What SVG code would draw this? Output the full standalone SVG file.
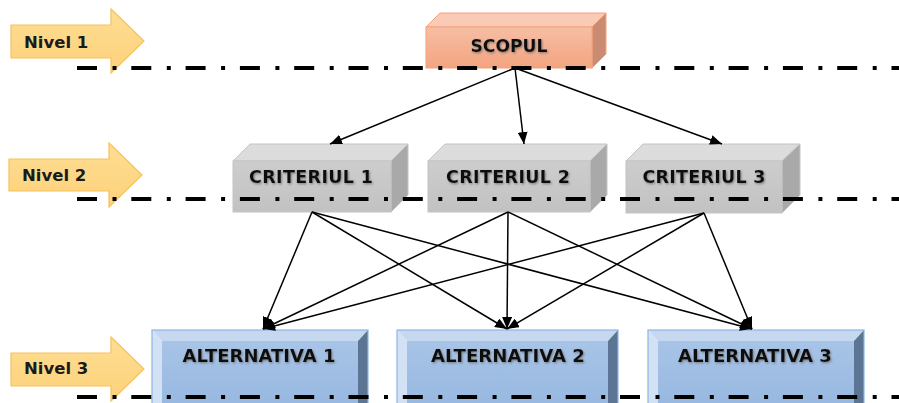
<svg xmlns="http://www.w3.org/2000/svg" width="899" height="403" viewBox="0 0 899 403">
<defs>
  <style>
    .lvl{fill:url(#gLvl);stroke:#f7c25c;stroke-width:1.2}
    .lvltxt{font-family:"DejaVu Sans",Verdana,sans-serif;font-weight:bold;font-size:16.5px;fill:#1a1a1a}
    .btxt{font-family:"DejaVu Sans",Verdana,sans-serif;font-weight:bold;font-size:17.5px;fill:#111;text-anchor:middle;filter:url(#shadow)}
    .atxt{font-size:17px}
    .sf{fill:url(#gScF);stroke:#f3a27c;stroke-width:1}
    .st{fill:#f9cbb7;stroke:#f3a27c;stroke-width:1}
    .sr{fill:#c98c72;stroke:#f3a27c;stroke-width:1}
    .cf{fill:url(#gCrF);stroke:#c4c4c4;stroke-width:1}
    .ct{fill:#dcdcdc;stroke:#c4c4c4;stroke-width:1}
    .cr{fill:#a9a9a9;stroke:#c4c4c4;stroke-width:1}
    .ai{fill:url(#gAlF)}
    .abt{fill:#c5d8f0}
    .abl{fill:#d2e1f4}
    .abr{fill:#5c7594}
    .ao{fill:none;stroke:#8fb4e3;stroke-width:1.2}
    .dash{stroke:#000;stroke-width:4;stroke-dasharray:20 15.5 4 14.8;fill:none}
    .con{stroke:#000;stroke-width:1.5;fill:none;marker-end:url(#ah)}
  </style>
  <linearGradient id="gLvl" x1="0" y1="0" x2="0" y2="1">
    <stop offset="0" stop-color="#fedd94"/>
    <stop offset="1" stop-color="#fdd27a"/>
  </linearGradient>
  <linearGradient id="gScF" x1="0" y1="0" x2="0" y2="1">
    <stop offset="0" stop-color="#f7bea5"/>
    <stop offset="1" stop-color="#f3a47f"/>
  </linearGradient>
  <linearGradient id="gCrF" x1="0" y1="0" x2="0" y2="1">
    <stop offset="0" stop-color="#cdcdcd"/>
    <stop offset="1" stop-color="#c2c2c2"/>
  </linearGradient>
  <linearGradient id="gAlF" x1="0" y1="0" x2="0" y2="1">
    <stop offset="0" stop-color="#a8c4e7"/>
    <stop offset="1" stop-color="#96b7e0"/>
  </linearGradient>
  <filter id="shadow" x="-10%" y="-30%" width="120%" height="160%">
    <feDropShadow dx="1" dy="1.2" stdDeviation="0.8" flood-color="#6d6d6d" flood-opacity="0.8"/>
  </filter>
  <marker id="ah" markerUnits="userSpaceOnUse" markerWidth="12" markerHeight="10" refX="12" refY="5" orient="auto">
    <path d="M0,0 L12,5 L0,10 Z" fill="#000"/>
  </marker>
</defs>
<rect width="899" height="403" fill="#fff"/>

<g id="nivel1">
  <polygon class="lvl" points="11,25 111,25 111,9 144,41 111,73 111,58 11,58"/>
  <text class="lvltxt" x="24" y="48">Nivel 1</text>
</g>
<g id="nivel2">
  <polygon class="lvl" points="9,159 109,159 109,143 142,175 109,207 109,191 9,191"/>
  <text class="lvltxt" x="22" y="181">Nivel 2</text>
</g>
<g id="nivel3">
  <polygon class="lvl" points="11,353 111,353 111,337 144,369 111,401 111,386 11,386"/>
  <text class="lvltxt" x="24" y="374">Nivel 3</text>
</g>

<g id="scopul">
  <polygon class="st" points="426,27 440,13 606,13 592,27"/>
  <polygon class="sr" points="592,27 606,13 606,54 592,68"/>
  <rect class="sf" x="426" y="27" width="166" height="41"/>
  <text class="btxt" x="509" y="52" textLength="77" lengthAdjust="spacingAndGlyphs">SCOPUL</text>
</g>

<g id="criteriul1">
  <polygon class="ct" points="233,161 250,144 408,144 391,161"/>
  <polygon class="cr" points="391,161 408,144 408,195 391,212"/>
  <rect class="cf" x="233" y="161" width="158" height="51"/>
  <text class="btxt" x="311" y="183" textLength="124" lengthAdjust="spacing">CRITERIUL 1</text>
</g>
<g id="criteriul2">
  <polygon class="ct" points="428,161 445,144 607,144 590,161"/>
  <polygon class="cr" points="590,161 607,144 607,195 590,212"/>
  <rect class="cf" x="428" y="161" width="162" height="51"/>
  <text class="btxt" x="508" y="183" textLength="124" lengthAdjust="spacing">CRITERIUL 2</text>
</g>
<g id="criteriul3">
  <polygon class="ct" points="626,161 643,144 800,144 782,161"/>
  <polygon class="cr" points="782,161 800,144 800,195 782,213"/>
  <rect class="cf" x="626" y="161" width="156" height="52"/>
  <text class="btxt" x="704" y="183" textLength="123" lengthAdjust="spacing">CRITERIUL 3</text>
</g>

<g id="alternativa1">
  <rect class="ai" x="162" y="341" width="196" height="70"/>
  <polygon class="abt" points="152,330 368,330 358,341 162,341"/>
  <polygon class="abl" points="152,330 162,341 162,411 152,411"/>
  <polygon class="abr" points="368,330 358,341 358,411 368,411"/>
  <rect class="ao" x="152" y="330" width="216" height="81"/>
  <text class="btxt atxt" x="259" y="362" textLength="153" lengthAdjust="spacingAndGlyphs">ALTERNATIVA 1</text>
</g>
<g id="alternativa2">
  <rect class="ai" x="407" y="341" width="201" height="70"/>
  <polygon class="abt" points="397,330 618,330 608,341 407,341"/>
  <polygon class="abl" points="397,330 407,341 407,411 397,411"/>
  <polygon class="abr" points="618,330 608,341 608,411 618,411"/>
  <rect class="ao" x="397" y="330" width="221" height="81"/>
  <text class="btxt atxt" x="508" y="362" textLength="154" lengthAdjust="spacingAndGlyphs">ALTERNATIVA 2</text>
</g>
<g id="alternativa3">
  <rect class="ai" x="658" y="341" width="196" height="70"/>
  <polygon class="abt" points="648,330 864,330 854,341 658,341"/>
  <polygon class="abl" points="648,330 658,341 658,411 648,411"/>
  <polygon class="abr" points="864,330 854,341 854,411 864,411"/>
  <rect class="ao" x="648" y="330" width="216" height="81"/>
  <text class="btxt atxt" x="755" y="362" textLength="154" lengthAdjust="spacingAndGlyphs">ALTERNATIVA 3</text>
</g>

<g id="levels">
  <line class="dash" x1="77" y1="68" x2="899" y2="68"/>
  <line class="dash" x1="77" y1="199" x2="899" y2="199"/>
  <line class="dash" x1="77" y1="397" x2="899" y2="397"/>
</g>

<g id="connectors">
  <line class="con" x1="515" y1="68" x2="330" y2="144"/>
  <line class="con" x1="515" y1="68" x2="524" y2="144"/>
  <line class="con" x1="515" y1="68" x2="722" y2="144"/>
  <line class="con" x1="312" y1="212" x2="263" y2="329"/>
  <line class="con" x1="312" y1="212" x2="507" y2="329"/>
  <line class="con" x1="312" y1="212" x2="752" y2="329"/>
  <line class="con" x1="508" y1="212" x2="263" y2="329"/>
  <line class="con" x1="508" y1="212" x2="507" y2="329"/>
  <line class="con" x1="508" y1="212" x2="752" y2="329"/>
  <line class="con" x1="704" y1="213" x2="263" y2="329"/>
  <line class="con" x1="704" y1="213" x2="507" y2="329"/>
  <line class="con" x1="704" y1="213" x2="752" y2="329"/>
</g>
</svg>
